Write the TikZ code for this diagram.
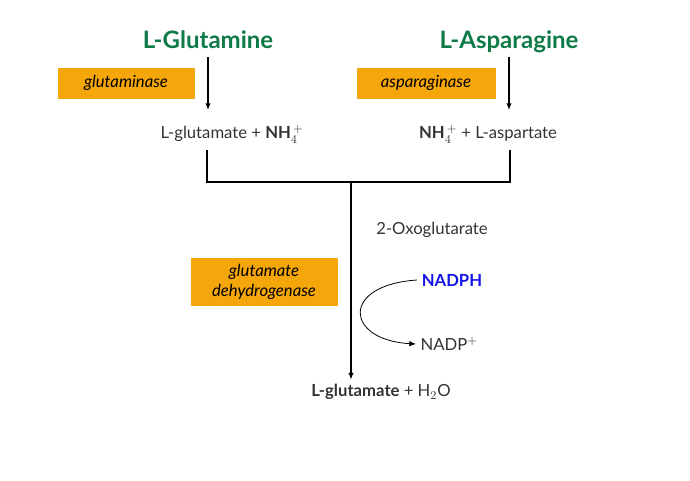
\documentclass[tikz,border=0pt]{standalone}
\usepackage{fontspec}
\setmainfont{Lato}
\usetikzlibrary{arrows.meta, positioning}
\definecolor{aagreen}{RGB}{14,122,72}
\definecolor{aaorange}{RGB}{245,166,10}
\definecolor{aablue}{RGB}{20,20,230}
\begin{document}
\begin{tikzpicture}[
  x=0.75pt, y=-0.75pt,
  amino/.style={font=\fontsize{18}{20}\selectfont\bfseries, text=aagreen},
  enzyme/.style={fill=aaorange, font=\fontsize{12.5}{15}\selectfont\itshape, align=center, inner sep=3pt},
  product/.style={font=\fontsize{12.5}{15}\selectfont, text=black!80},
  react/.style={-{Latex[length=5pt,width=4pt]}, thick, black}
]
\useasboundingbox (0,0) rectangle (690,480);

% Substrates
\node[amino] (gln) at (208,40) {L-Glutamine};
\node[amino] (asn) at (509,42) {L-Asparagine};

% Enzymes
\node[enzyme, minimum width=137pt*0.75, minimum height=31pt*0.75] (glnase) at (126,83) {glutaminase};
\node[enzyme, minimum width=139pt*0.75, minimum height=31pt*0.75] (asnase) at (426,83) {asparaginase};
\node[enzyme, minimum width=147pt*0.75, minimum height=48pt*0.75] (gdh) at (264,282) {glutamate\\dehydrogenase};

% Products
\node[product] (glu) at (232,134) {L-glutamate + \textbf{NH$_4^{\,+}$}};
\node[product] (asp) at (488,134) {\textbf{NH$_4^{\,+}$} + L-aspartate};
\node[product] (oxo) at (432,230) {2-Oxoglutarate};
\node[font=\fontsize{12.5}{15}\selectfont\bfseries, text=aablue] (nadph) at (452,280) {NADPH};
\node[product, anchor=west] (nadp) at (416,344) {NADP$^{+}$};
\node[product] (final) at (381,392) {\textbf{L-glutamate} + H$_2$O};

% Coordinates
\coordinate (gl) at (207,150);
\coordinate (al) at (510,150);
\coordinate (mid) at (351,182);

% Reactions
\draw[react] (gln.south |- 0,57) -- (208,110);
\draw[react] (asn.south |- 0,57) -- (509,110);
\draw[thick] (gl) -- (207,182) -- (510,182) -- (al);
\draw[react] (mid) -- (final.north -| mid);
\draw[react, semithick] (nadph.west) .. controls (340,285) and (345,340) .. (nadp.west);

\end{tikzpicture}
\end{document}
